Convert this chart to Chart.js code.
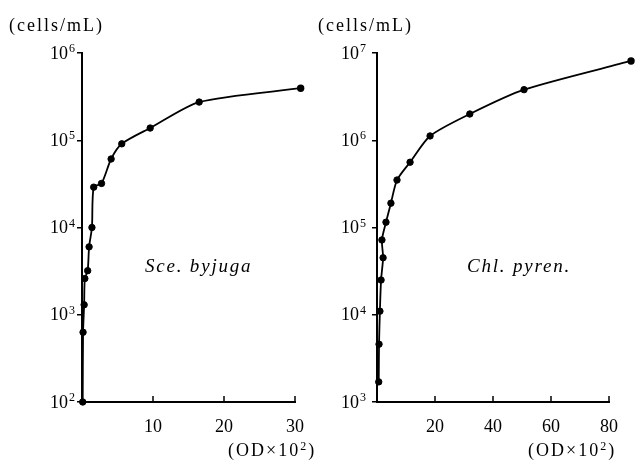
<!DOCTYPE html>
<html>
<head>
<meta charset="utf-8">
<script src="https://cdn.jsdelivr.net/npm/chart.js@4.4.1/dist/chart.umd.min.js"></script>
<style>
body { margin: 0; background: #fff; width: 637px; height: 460px; position: relative; overflow: hidden; font-family: "Liberation Serif", serif; color: #000; }
canvas { position: absolute; top: 0; }
.t { position: absolute; font-size: 18px; white-space: nowrap; line-height: 1; letter-spacing: 2px; }
.t sup { font-size: 12px; vertical-align: 6px; line-height: 0; }
.sp { font-style: italic; font-size: 19px; letter-spacing: 1.8px; }
</style>
</head>
<body>
<canvas id="left" width="318" height="460" style="left:0"></canvas>
<canvas id="right" width="319" height="460" style="left:318px"></canvas>
<div class="t" style="left:9px;top:16px">(cells/mL)</div>
<div class="t" style="left:318px;top:16px">(cells/mL)</div>
<div class="t" style="left:228px;top:441px">(OD×10<sup>2</sup>)</div>
<div class="t" style="left:528px;top:441px">(OD×10<sup>2</sup>)</div>
<div class="t sp" style="left:145px;top:256px">Sce. byjuga</div>
<div class="t sp" style="left:467px;top:256px">Chl. pyren.</div>
<script>
// Sce. byjuga
const sceOD = [0.1, 0.15, 0.3, 0.4, 0.8, 1.0, 1.4, 1.65, 2.75, 4.1, 5.6, 9.6, 16.5, 30.8];
const sceCells = [100, 630, 1300, 2600, 3200, 6000, 10000, 29000, 32000, 61000, 91000, 138000, 274000, 395000];
const sceXTicks = [10, 20, 30];
const sceYTicks = [1e2, 1e3, 1e4, 1e5, 1e6];
const sceYExp = ['2', '3', '4', '5', '6'];

// Chl. pyren.
const chlOD = [0.6, 0.7, 1.0, 1.4, 2.1, 1.7, 3.1, 4.8, 6.9, 11.4, 18.3, 32, 50.7, 87.6];
const chlCells = [1700, 4600, 11000, 25000, 45000, 72000, 115000, 190000, 350000, 560000, 1120000, 2000000, 3800000, 8100000];
const chlXTicks = [20, 40, 60, 80];
const chlYTicks = [1e3, 1e4, 1e5, 1e6, 1e7];
const chlYExp = ['3', '4', '5', '6', '7'];

const serifFam = '"Liberation Serif", serif';
const dotR = 3.2;

// x ticks point up into the plot, y labels drawn as 10 + raised exponent,
// points past the x range are still drawn
const extras = {
    id: 'extras',
    afterDatasetsDraw(chart, args, opts) {
        const ctx = chart.ctx;
        const area = chart.chartArea;
        const x = chart.scales.x;
        const y = chart.scales.y;
        ctx.save();
        ctx.strokeStyle = '#000';
        ctx.fillStyle = '#000';
        ctx.lineWidth = 1.5;
        x.ticks.forEach(t => {
            const px = x.getPixelForValue(t.value);
            ctx.beginPath();
            ctx.moveTo(px, area.bottom);
            ctx.lineTo(px, area.bottom - 6);
            ctx.stroke();
        });

        y.ticks.forEach((t, i) => {
            const py = y.getPixelForValue(t.value);
            const right = area.left - opts.gap;
            ctx.font = '12px ' + serifFam;
            ctx.textAlign = 'right';
            ctx.textBaseline = 'alphabetic';
            const exp = opts.exps[i];
            const w = ctx.measureText(exp).width;
            ctx.fillText(exp, right, py - 1);
            ctx.font = '18px ' + serifFam;
            ctx.textBaseline = 'middle';
            ctx.fillText('10', right - w - 1, py + 1);
        });

        chart.getDatasetMeta(0).data.forEach(p => {
            if (p.x > area.right) {
                ctx.beginPath();
                ctx.arc(p.x, p.y, dotR + 0.5, 0, Math.PI * 2);
                ctx.fill();
            }
        });
        ctx.restore();
    }
};

function makeChart(id, od, cells, xMax, xTicks, yTicks, yExp, yWidth, padRight, gap) {
    const ctx = document.getElementById(id).getContext('2d');
    return new Chart(ctx, {
        type: 'line',
        data: {
            datasets: [{
                data: od.map((v, i) => ({ x: v, y: cells[i] })),
                borderColor: '#000',
                borderWidth: 1.8,
                pointRadius: dotR,
                pointBorderWidth: 1,
                pointBackgroundColor: '#000',
                pointBorderColor: '#000',
                tension: 0.25,
                clip: false
            }]
        },
        options: {
            responsive: false,
            animation: false,
            layout: { padding: { top: 53, right: padRight, left: 0, bottom: 0 } },
            plugins: {
                legend: { display: false },
                tooltip: { enabled: false },
                extras: { exps: yExp, gap: gap }
            },
            scales: {
                x: {
                    type: 'linear',
                    min: 0,
                    max: xMax,
                    afterBuildTicks: s => { s.ticks = xTicks.map(v => ({ value: v })); },
                    afterFit: s => { s.height = 58; },
                    grid: { drawOnChartArea: false, drawTicks: false },
                    border: { color: '#000', width: 2 },
                    ticks: { color: '#000', font: { family: serifFam, size: 18 }, padding: 14, maxRotation: 0 }
                },
                y: {
                    type: 'logarithmic',
                    min: yTicks[0],
                    max: yTicks[yTicks.length - 1],
                    afterBuildTicks: s => { s.ticks = yTicks.map(v => ({ value: v })); },
                    afterFit: s => { s.width = yWidth; },
                    grid: { drawOnChartArea: false, drawTicks: true, tickLength: 5, color: '#000', lineWidth: 1.5 },
                    border: { color: '#000', width: 2 },
                    ticks: { display: false }
                }
            }
        },
        plugins: [extras]
    });
}

makeChart('left', sceOD, sceCells, 30, sceXTicks, sceYTicks, sceYExp, 82, 18, 7);
makeChart('right', chlOD, chlCells, 80, chlXTicks, chlYTicks, chlYExp, 59, 28, 11);
</script>
</body>
</html>
